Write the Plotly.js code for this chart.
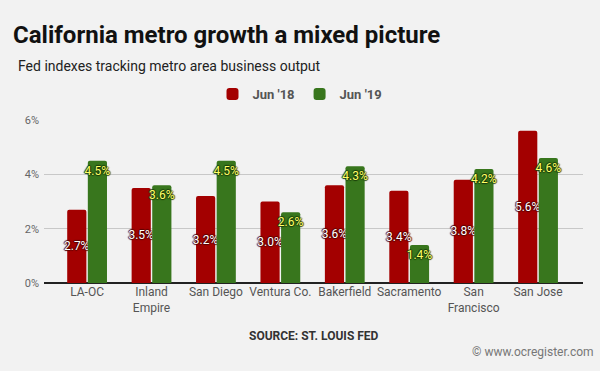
<!DOCTYPE html>
<html>
<head>
<meta charset="utf-8">
<script src="https://cdn.plot.ly/plotly-3.0.1.min.js"></script>
<style>
html,body{margin:0;padding:0;background:#f2f2f2;}
#chart{width:600px;height:371px;}
</style>
</head>
<body>
<div id="chart"></div>
<script>
const categories = ["LA-OC", "Inland<br>Empire", "San Diego", "Ventura Co.", "Bakerfield", "Sacramento", "San<br>Francisco", "San Jose"];
const jun18 = [2.7, 3.5, 3.2, 3.0, 3.6, 3.4, 3.8, 5.6];
const jun19 = [4.5, 3.6, 4.5, 2.6, 4.3, 1.4, 4.2, 4.6];
const seriesNames = ["Jun '18", "Jun '19"];
const yTicks = [0, 2, 4, 6];
const yTickLabels = ["0%", "2%", "4%", "6%"];

const xIdx = categories.map((c, i) => i);
const font = "Roboto, sans-serif";

const traces = [
  {
    type: "bar", name: seriesNames[0], x: xIdx, y: jun18,
    marker: {color: "#a30000", cornerradius: 2},
    texttemplate: "%{y:.1f}%", textposition: "inside", insidetextanchor: "middle",
    textangle: 0, constraintext: "none",
    textfont: {family: font, size: 12, color: "#ffffff", shadow: "-1px 0 1px #500, 1px 0 1px #500, 0 1px 1px #500, 0 -1px 1px #500"},
    hoverinfo: "skip"
  },
  {
    type: "bar", name: seriesNames[1], x: xIdx, y: jun19,
    marker: {color: "#38761d", cornerradius: 2},
    texttemplate: "%{y:.1f}%", textposition: "inside", insidetextanchor: "end",
    textangle: 0, constraintext: "none",
    textfont: {family: font, size: 12, color: "#ffff66", shadow: "-1px 0 1px #1a3a0a, 1px 0 1px #1a3a0a, 0 1px 1px #1a3a0a, 0 -1px 1px #1a3a0a"},
    hoverinfo: "skip"
  }
];

const layout = {
  width: 600, height: 371,
  paper_bgcolor: "#f2f2f2", plot_bgcolor: "#f2f2f2",
  margin: {l: 44, r: 17, t: 120, b: 88},
  barmode: "group", bargap: 0.36, bargroupgap: 0.07,
  showlegend: true,
  legend: {orientation: "h", x: 0.5, xanchor: "center", xref: "container",
    y: 1 - 94 / 371, yref: "container", yanchor: "middle",
    font: {family: font, size: 13, color: "#555555", weight: "bold"}, traceorder: "normal"},
  title: {text: "<b>California metro growth a mixed picture</b>", x: 13 / 600, xref: "container", xanchor: "left",
    y: 1 - 35 / 371, yref: "container", yanchor: "middle",
    font: {family: font, size: 24, color: "#111111"}},
  xaxis: {
    tickmode: "array", tickvals: xIdx, ticktext: categories, tickangle: 0,
    range: [-0.669, 7.698], showgrid: false, zeroline: false, showline: false, ticks: "",
    tickfont: {family: font, size: 12, color: "#555555"}, fixedrange: true
  },
  yaxis: {
    range: [0, 6], tickmode: "array", tickvals: yTicks, ticktext: yTickLabels,
    showgrid: true, gridcolor: "#c8c8c8", gridwidth: 1,
    zeroline: true, zerolinecolor: "#222222", zerolinewidth: 1.5,
    ticks: "", ticklabelstandoff: 4,
    tickfont: {family: font, size: 11, color: "#666666"}, fixedrange: true
  },
  annotations: [
    {text: "Fed indexes tracking metro area business output", xref: "paper", yref: "paper",
     x: 0, xanchor: "left", y: 0, yanchor: "middle", showarrow: false,
     font: {family: font, size: 14, color: "#222222"}},
    {text: "<b>SOURCE: ST. LOUIS FED</b>", xref: "paper", yref: "paper", x: 0.5, y: 0,
     showarrow: false, font: {family: font, size: 12, color: "#333333"}},
    {text: "© www.ocregister.com", xref: "paper", yref: "paper", x: 1, y: 0,
     showarrow: false, font: {family: font, size: 12, color: "#777777"}}
  ]
};

const plotH = 371 - 120 - 88, plotW = 600 - 44 - 17;
function py(pix){ return (371 - 88 - pix) / plotH; }
function px(pix){ return (pix - 44) / plotW; }
layout.annotations[0].x = px(16); layout.annotations[0].y = py(66);
layout.annotations[1].x = px(314); layout.annotations[1].y = py(345);
layout.annotations[2].x = px(596); layout.annotations[2].xanchor = "right"; layout.annotations[2].y = py(361);

Plotly.newPlot("chart", traces, layout, {displayModeBar: false, staticPlot: true});
</script>
</body>
</html>
